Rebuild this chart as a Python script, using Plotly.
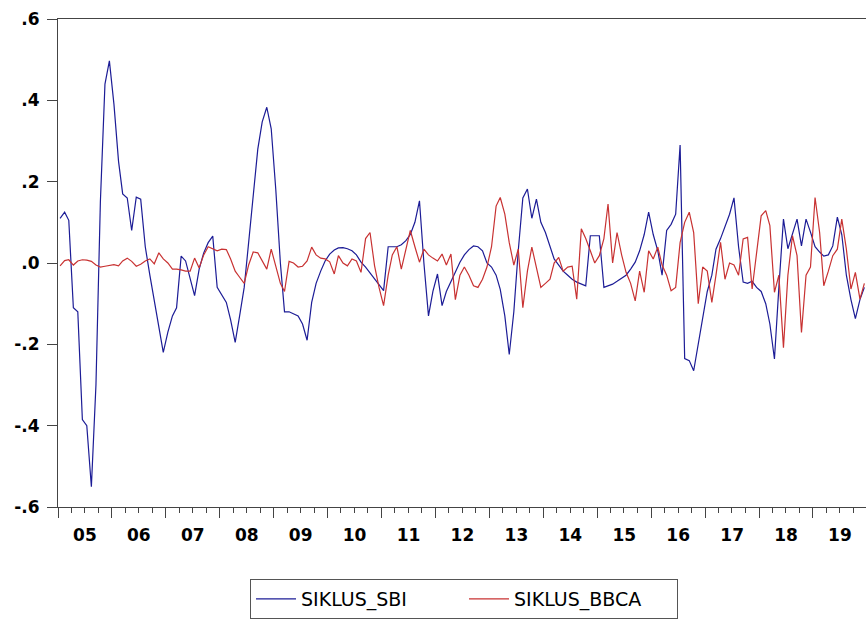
import pandas as pd
import plotly.graph_objects as go

# Monthly observations 2005M01 - 2019M12
months = (pd.date_range(start="2005-01-01", periods=180, freq="MS") + pd.Timedelta(days=14)).strftime("%Y-%m-%d").tolist()

siklus_sbi = [
    0.11, 0.125, 0.105, -0.11, -0.12, -0.385, -0.40, -0.55, -0.30, 0.15,
    0.44, 0.497, 0.39, 0.25, 0.17, 0.16, 0.08, 0.162, 0.157, 0.04,
    -0.03, -0.09, -0.16, -0.22, -0.17, -0.13, -0.11, 0.017, 0.005, -0.04,
    -0.08, -0.015, 0.025, 0.05, 0.066, -0.06, -0.08, -0.097, -0.14, -0.195,
    -0.13, -0.06, 0.05, 0.17, 0.28, 0.347, 0.383, 0.33, 0.18, 0.0,
    -0.12, -0.12, -0.125, -0.13, -0.15, -0.19, -0.097, -0.05, -0.02, 0.005,
    0.022, 0.032, 0.037, 0.038, 0.035, 0.03, 0.02, 0.002, -0.01, -0.025,
    -0.04, -0.055, -0.068, 0.04, 0.04, 0.04, 0.045, 0.055, 0.07, 0.10,
    0.153, 0.0, -0.13, -0.07, -0.027, -0.105, -0.07, -0.045, -0.02, 0.002,
    0.02, 0.033, 0.042, 0.04, 0.03, 0.0, -0.01, -0.03, -0.065, -0.13,
    -0.225, -0.12, 0.03, 0.16, 0.182, 0.11, 0.157, 0.10, 0.075, 0.04,
    0.01, -0.005, -0.02, -0.03, -0.04, -0.047, -0.052, -0.056, 0.067, 0.067,
    0.067, -0.06, -0.056, -0.052, -0.045, -0.038, -0.03, -0.015, 0.002, 0.03,
    0.07, 0.125, 0.07, 0.03, -0.03, 0.08, 0.095, 0.12, 0.29, -0.235,
    -0.24, -0.265, -0.20, -0.13, -0.07, -0.03, 0.034, 0.06, 0.09, 0.12,
    0.16, 0.04, -0.047, -0.05, -0.045, -0.06, -0.07, -0.10, -0.15, -0.236,
    -0.06, 0.108, 0.035, 0.07, 0.108, 0.042, 0.108, 0.076, 0.04, 0.027,
    0.017, 0.02, 0.042, 0.113, 0.07, -0.03, -0.09, -0.137, -0.09, -0.06,
]

siklus_bbca = [
    -0.007, 0.006, 0.008, -0.005, 0.005, 0.008, 0.007, 0.004, -0.005, -0.01,
    -0.008, -0.006, -0.004, -0.007, 0.005, 0.012, 0.004, -0.008, -0.003, 0.005,
    0.01, -0.002, 0.025, 0.01, 0.0, -0.015, -0.015, -0.017, -0.02, -0.02,
    0.012, -0.012, 0.02, 0.04, 0.035, 0.03, 0.034, 0.033, 0.01, -0.02,
    -0.035, -0.05, -0.005, 0.027, 0.025, 0.005, -0.015, 0.034, -0.01, -0.05,
    -0.07, 0.004, 0.0, -0.01, -0.008, 0.005, 0.039, 0.02, 0.012, 0.01,
    0.003, -0.027, 0.018, 0.0, -0.007, 0.01, 0.005, -0.023, 0.06, 0.075,
    -0.007, -0.06, -0.105, -0.03, 0.02, 0.04, -0.015, 0.03, 0.08, 0.04,
    0.002, 0.034, 0.02, 0.012, 0.005, 0.022, -0.005, 0.022, -0.09, -0.03,
    -0.01, -0.03, -0.056, -0.06, -0.04, -0.01, 0.04, 0.14, 0.161, 0.12,
    0.05, -0.005, 0.034, -0.11, -0.02, 0.039, -0.01, -0.06, -0.05, -0.04,
    0.0, 0.014, -0.02, -0.01, -0.008, -0.089, 0.084, 0.06, 0.03, 0.0,
    0.018, 0.06, 0.145, 0.0, 0.075, 0.02, -0.023, -0.05, -0.093, -0.02,
    -0.072, 0.03, 0.01, 0.039, -0.005, -0.03, -0.068, -0.06, 0.05, 0.1,
    0.125, 0.075, -0.1, -0.01, -0.02, -0.097, -0.03, 0.051, -0.04, 0.0,
    -0.005, -0.03, 0.059, 0.063, -0.064, 0.03, 0.116, 0.129, 0.092, -0.072,
    -0.03, -0.208, -0.03, 0.067, 0.018, -0.171, -0.03, -0.01, 0.161, 0.075,
    -0.056, -0.02, 0.018, 0.034, 0.108, 0.034, -0.064, -0.023, -0.089, -0.05,
]

y_tickvals = [0.6, 0.4, 0.2, 0.0, -0.2, -0.4, -0.6]
y_ticktext = [".6", ".4", ".2", ".0", "-.2", "-.4", "-.6"]

axis_color = "#444444"
tick_font = dict(family="DejaVu Sans", size=17, color="black", weight="bold")

fig = go.Figure()
fig.add_trace(go.Scatter(x=months, y=siklus_sbi, mode="lines", name="SIKLUS_SBI",
                         line=dict(color="#1c1c96", width=1.2)))
fig.add_trace(go.Scatter(x=months, y=siklus_bbca, mode="lines", name="SIKLUS_BBCA",
                         line=dict(color="#c83232", width=1.2)))

fig.update_layout(
    width=866, height=619,
    margin=dict(l=58, r=0, t=19, b=111),
    paper_bgcolor="white", plot_bgcolor="white",
    showlegend=True,
    legend=dict(
        orientation="h", x=0.5025, xanchor="center", y=-0.147, yanchor="top",
        font=dict(family="DejaVu Sans", size=19, color="black"),
        bordercolor="#555555", borderwidth=1, bgcolor="white",
        entrywidth=158, itemwidth=40,
    ),
    xaxis=dict(
        type="date", range=["2005-01-01", "2019-12-26"],
        tick0="2005-01-01", dtick="M12", tickformat="%y", ticklabelmode="period",
        ticks="outside", ticklen=10, tickcolor=axis_color, tickwidth=1,
        minor=dict(dtick="M3", tick0="2005-01-01", ticks="outside", ticklen=5,
                   tickcolor=axis_color, tickwidth=1, showgrid=False),
        showline=True, linecolor=axis_color, linewidth=1, mirror=True,
        showgrid=False, zeroline=False, tickfont=tick_font, ticklabelstandoff=3,
    ),
    yaxis=dict(
        range=[-0.6, 0.6], tickvals=y_tickvals, ticktext=y_ticktext,
        ticks="outside", ticklen=10, tickcolor=axis_color, tickwidth=1,
        showline=True, linecolor=axis_color, linewidth=1, mirror=False,
        showgrid=False, zeroline=False, tickfont=tick_font, ticklabelstandoff=4,
    ),
)

fig.write_html("out.html")
